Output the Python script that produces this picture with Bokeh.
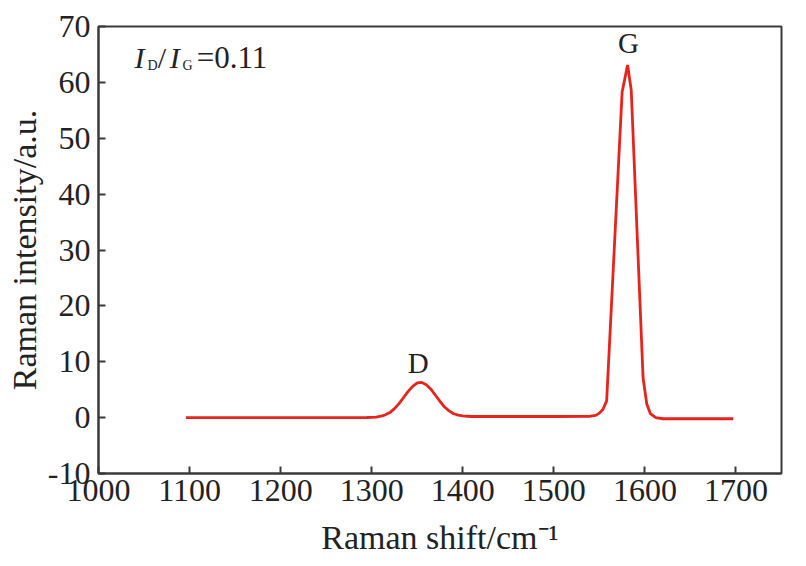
from bokeh.plotting import figure
from bokeh.models import FixedTicker, Range1d, ColumnDataSource
from bokeh.core.properties import value
from bokeh.embed import file_html
from bokeh.resources import INLINE

# Raman spectrum
shift = [1096, 1150, 1200, 1250, 1285, 1295, 1300, 1305, 1310, 1315, 1320, 1325,
         1330, 1335, 1340, 1345, 1350, 1355, 1360, 1365, 1370, 1375, 1380, 1385,
         1390, 1395, 1400, 1405, 1410, 1420, 1450, 1500, 1540, 1546, 1550, 1554,
         1558, 1575, 1581, 1585, 1598, 1602, 1606, 1612, 1620, 1660, 1697]
intensity = [0.0, 0.0, 0.0, 0.0, 0.0, 0.02, 0.05, 0.1, 0.25, 0.5, 0.9, 1.6,
             2.5, 3.6, 4.7, 5.6, 6.2, 6.3, 5.9, 5.1, 4.0, 2.9, 1.9, 1.2,
             0.7, 0.45, 0.3, 0.25, 0.2, 0.2, 0.2, 0.2, 0.25, 0.4, 0.8, 1.5,
             3.0, 58.3, 63.1, 58.6, 7.1, 2.5, 0.7, 0.0, -0.2, -0.2, -0.2]

x_ticks = [1000, 1100, 1200, 1300, 1400, 1500, 1600, 1700]
y_ticks = [-10, 0, 10, 20, 30, 40, 50, 60, 70]

peak_names = ["D", "G"]
peak_x = [1351, 1582]
peak_y = [9.85, 67.1]

ratio_text = "0.11"
x_label = "Raman shift/cm\u207b\u00b9"
y_label = "Raman intensity/a.u."

SERIF = "Liberation Serif"
AX = "#3a3a3a"
TXT = "#222222"

p = figure(width=790, height=558, output_backend="svg", toolbar_location=None,
           x_range=Range1d(1000, 1750), y_range=Range1d(-10, 70),
           min_border_left=98, min_border_right=9, min_border_top=26,
           min_border_bottom=85)

p.background_fill_color = "white"
p.border_fill_color = "white"
p.outline_line_color = AX
p.outline_line_width = 2
p.grid.visible = False

src = ColumnDataSource(dict(x=shift, y=intensity))
p.line("x", "y", source=src, line_color="#e8231c", line_width=2.8)

# peak labels
p.text(x=peak_x, y=peak_y, text=peak_names, text_font=value(SERIF),
       text_font_size="29px", text_color=TXT, text_align="center",
       text_baseline="alphabetic")

# I_D / I_G = 0.11
def piece(x, y, t, size, italic=False):
    p.text(x=[x], y=[y], text=[t], text_font=value(SERIF),
           text_font_style="italic" if italic else "normal",
           text_font_size=size, text_color=TXT, text_baseline="alphabetic")

piece(1039.5, 64.4, "I", "30px", True)
piece(1053.8, 63.0, "D", "14px")
piece(1065.0, 64.4, "/", "30px")
piece(1078.3, 64.4, "I", "30px", True)
piece(1092.3, 63.0, "G", "14px")
piece(1107.8, 64.4, "=" + ratio_text, "31px")

for ax in (p.xaxis[0], p.yaxis[0]):
    ax.axis_line_color = AX
    ax.axis_line_width = 2
    ax.major_tick_line_color = AX
    ax.major_tick_line_width = 2
    ax.major_tick_in = 7
    ax.major_tick_out = 0
    ax.minor_tick_line_color = None
    ax.major_label_text_font = SERIF
    ax.major_label_text_font_size = "32px"
    ax.major_label_text_color = TXT
    ax.axis_label_text_font = SERIF
    ax.axis_label_text_font_size = "34px"
    ax.axis_label_text_font_style = "normal"
    ax.axis_label_text_color = TXT

p.xaxis.ticker = FixedTicker(ticks=x_ticks)
p.yaxis.ticker = FixedTicker(ticks=y_ticks)
p.yaxis.major_label_overrides = {-10: "-10"}
p.xaxis.major_label_standoff = 6
p.yaxis.major_label_standoff = 8
p.xaxis.axis_label = x_label
p.yaxis.axis_label = y_label
p.xaxis.axis_label_standoff = 15
p.yaxis.axis_label_standoff = 2

open("out.html", "w").write(file_html(p, INLINE))
